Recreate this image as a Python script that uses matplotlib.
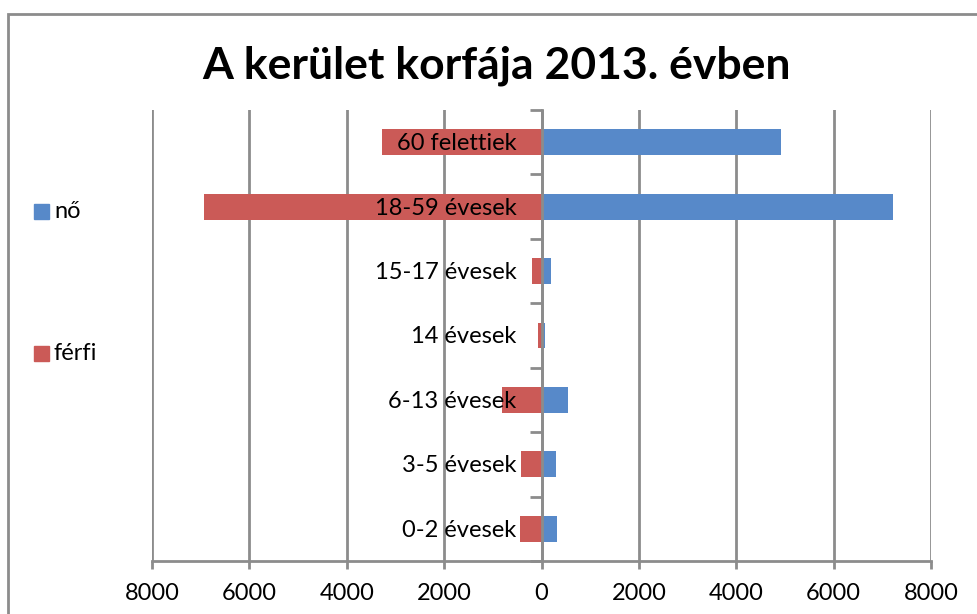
import matplotlib.pyplot as plt
from matplotlib.patches import Rectangle
import numpy as np

plt.rcParams['font.family'] = ['Lato', 'DejaVu Sans']

# korcsoportok felülről lefelé
categories = ['60 felettiek', '18-59 évesek', '15-17 évesek', '14 évesek',
              '6-13 évesek', '3-5 évesek', '0-2 évesek']
no = [4910, 7215, 205, 70, 540, 295, 315]
ferfi = [3270, 6935, 190, 70, 805, 430, 450]
xticks = [-8000, -6000, -4000, -2000, 0, 2000, 4000, 6000, 8000]
legend_labels = ['nő', 'férfi']

blue = '#5789C9'
red = '#CB5A57'
gray = '#8C8C8C'

W, H = 977, 614
fig = plt.figure(figsize=(W / 100, H / 100), dpi=100)
ax = fig.add_axes([152/W, 1 - 561/H, (931 - 152)/W, (561 - 110)/H])

y = np.arange(len(categories))[::-1]
ax.barh(y, no, height=0.4, color=blue, zorder=2)
ax.barh(y, -np.array(ferfi), height=0.4, color=red, zorder=2)

ax.set_xlim(-8000, 8000)
ax.set_ylim(-0.5, len(categories) - 0.5)

ax.set_xticks(xticks)
ax.set_xticklabels([str(abs(t)) for t in xticks], fontsize=17)
ax.xaxis.grid(True, color=gray, linewidth=2)
ax.tick_params(axis='x', length=6, width=2, color=gray, pad=10)

# kategória tengely a 0-nál
ax.spines['left'].set_position(('data', 0))
ax.spines['left'].set_color(gray)
ax.spines['left'].set_linewidth(2)
ax.spines['left'].set_zorder(3)
ax.spines['bottom'].set_color(gray)
ax.spines['bottom'].set_linewidth(2)
ax.spines['top'].set_visible(False)
ax.spines['right'].set_visible(False)

ax.set_yticks(np.arange(len(categories) + 1) - 0.5)
ax.set_yticklabels([])
ax.tick_params(axis='y', length=9, width=2, color=gray)

# feliratok a sávok fölött
for yi, cat in zip(y, categories):
    ax.annotate(cat, (0, yi), xytext=(-18, -1), textcoords='offset points',
                ha='right', va='center', fontsize=17, zorder=5)

fig.text(497/W, 1 - 66/H, 'A kerület korfája 2013. évben',
         ha='center', va='center', fontsize=32, fontweight='bold')

# jelmagyarázat
for lab, col, cy in zip(legend_labels, [blue, red], [211.5, 353]):
    fig.patches.append(Rectangle((34/W, 1 - (cy + 7.5)/H), 15/W, 15/H,
                                 transform=fig.transFigure, color=col))
    fig.text(54/W, 1 - cy/H, lab, ha='left', va='center', fontsize=17)

fig.patches.append(Rectangle((8/W, -0.1), 1.2, 1 - 14/H + 0.1,
                             transform=fig.transFigure, fill=False,
                             edgecolor=gray, linewidth=2))

fig.savefig('out.png', dpi=100)
